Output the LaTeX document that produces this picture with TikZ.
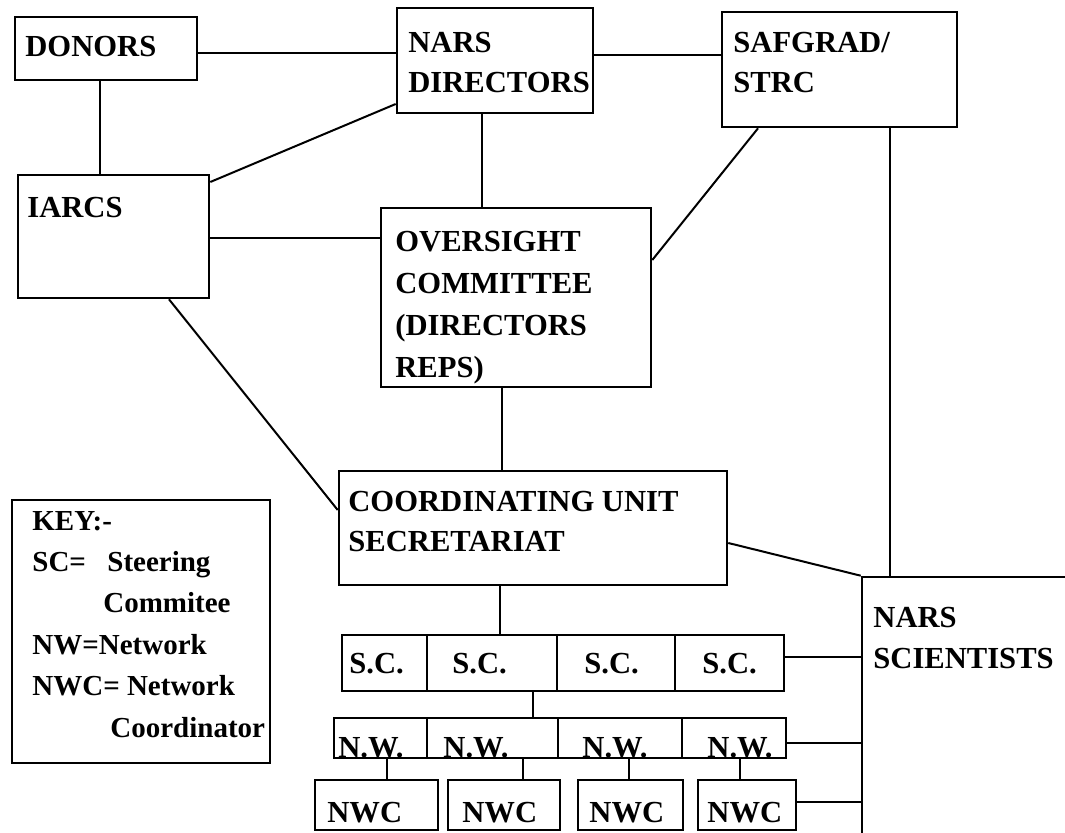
\documentclass[tikz,border=0pt]{standalone}
\usepackage{fontspec}
\setmainfont{Liberation Serif}
\usepackage{tikz}
\tikzset{
	txt/.style={anchor=base west, inner sep=0pt, align=left, font=\bfseries\fontsize{15.3}{20.3}\selectfont},
	link/.style={line width=1pt}
}
\newcommand{\orgbox}[5] % {nom}{x1}{y1}{x2}{y2} en pixels
{
	\node [draw, line width=1.3pt, inner sep=0pt, minimum width={(#4-#2)*0.5pt}, minimum height={(#5-#3)*0.5pt}] (#1) at ({(#2+#4)/2},{(#3+#5)/2}) {};
}

\begin{document}
\begin{tikzpicture}[x=0.5pt, y=-0.5pt]
	\useasboundingbox (0,0) rectangle (1065,833);
	\clip (0,0) rectangle (1065,833);
	%boites
	\orgbox{donors}{15}{17}{197}{80}
	\orgbox{narsdir}{397}{8}{593}{113}
	\orgbox{safgrad}{722}{12}{957}{127}
	\orgbox{iarcs}{18}{175}{209}{298}
	\orgbox{oversight}{381}{208}{651}{387}
	\orgbox{coord}{339}{471}{727}{585}
	\orgbox{key}{12}{500}{270}{763}
	\orgbox{sci}{862}{577}{1100}{870}
	\orgbox{sc1}{342}{635}{427}{691}
	\orgbox{sc2}{427}{635}{557}{691}
	\orgbox{sc3}{557}{635}{675}{691}
	\orgbox{sc4}{675}{635}{784}{691}
	\orgbox{nw1}{334}{718}{427}{758}
	\orgbox{nw2}{427}{718}{558}{758}
	\orgbox{nw3}{558}{718}{682}{758}
	\orgbox{nw4}{682}{718}{786}{758}
	\orgbox{nwc1}{315}{780}{438}{830}
	\orgbox{nwc2}{448}{780}{560}{830}
	\orgbox{nwc3}{578}{780}{683}{830}
	\orgbox{nwc4}{698}{780}{796}{830}
	
	%textes (base de la derniere ligne)
	\node[txt] (t-donors) at (25,57) {DONORS};
	\node[txt] (t-narsdir) at (408,93) {NARS\\DIRECTORS};
	\node[txt] (t-safgrad) at (733,93) {SAFGRAD/\\STRC};
	\node[txt] (t-iarcs) at (27,218) {IARCS};
	\node[txt, font=\bfseries\fontsize{15.3}{21}\selectfont] (t-oversight) at (395,378) {OVERSIGHT\\COMMITTEE\\(DIRECTORS\\REPS)};
	\node[txt] (t-coord) at (348,552) {COORDINATING UNIT\\SECRETARIAT};
	\node[txt] (t-sci) at (873,668) {NARS\\SCIENTISTS};
	\node[txt] (t-sc1) at (349,673) {S.C.};
	\node[txt] (t-sc2) at (452,673) {S.C.};
	\node[txt] (t-sc3) at (584,673) {S.C.};
	\node[txt] (t-sc4) at (702,673) {S.C.};
	\node[txt] (t-nw1) at (338,757) {N.W.};
	\node[txt] (t-nw2) at (443,757) {N.W.};
	\node[txt] (t-nw3) at (582,757) {N.W.};
	\node[txt] (t-nw4) at (707,757) {N.W.};
	\node[txt] (t-nwc1) at (327,822) {NWC};
	\node[txt] (t-nwc2) at (462,822) {NWC};
	\node[txt] (t-nwc3) at (589,822) {NWC};
	\node[txt] (t-nwc4) at (707,822) {NWC};
	\node[txt, font=\bfseries\fontsize{14.5}{20.7}\selectfont] (t-key) at (32,737) {KEY:-\\\makebox[37.5pt][l]{SC=}Steering\\\hspace*{35.5pt}Commitee\\NW=Network\\NWC= Network\\\hspace*{39pt}Coordinator};
	
	%liens
	\draw[link] (donors.east |- 0,53) -- (narsdir.west |- 0,53);
	\draw[link] (donors.south -| 100,0) -- (iarcs.north -| 100,0);
	\draw[link] (narsdir.east |- 0,55) -- (safgrad.west |- 0,55);
	\draw[link] (iarcs.east |- 0,182) -- (narsdir.west |- 0,104);
	\draw[link] (iarcs.east |- 0,238) -- (oversight.west |- 0,238);
	\draw[link] (narsdir.south -| 482,0) -- (oversight.north -| 482,0);
	\draw[link] (safgrad.south -| 758,0) -- (oversight.east |- 0,260);
	\draw[link] (oversight.south -| 502,0) -- (coord.north -| 502,0);
	\draw[link] (iarcs.south -| 169,0) -- (coord.west |- 0,510);
	\draw[link] (coord.east |- 0,543) -- (sci.north west);
	\draw[link] (safgrad.south -| 890,0) -- (sci.north -| 890,0);
	\draw[link] (coord.south -| 500,0) -- (sc2.north -| 500,0);
	\draw[link] (sc2.south -| 533,0) -- (nw2.north -| 533,0);
	\draw[link] (nw1.south -| 387,0) -- (nwc1.north -| 387,0);
	\draw[link] (nw2.south -| 523,0) -- (nwc2.north -| 523,0);
	\draw[link] (nw3.south -| 629,0) -- (nwc3.north -| 629,0);
	\draw[link] (nw4.south -| 740,0) -- (nwc4.north -| 740,0);
	\draw[link] (sc4.east |- 0,657) -- (sci.west |- 0,657);
	\draw[link] (nw4.east |- 0,743) -- (sci.west |- 0,743);
	\draw[link] (nwc4.east |- 0,802) -- (sci.west |- 0,802);
\end{tikzpicture}
\end{document}
